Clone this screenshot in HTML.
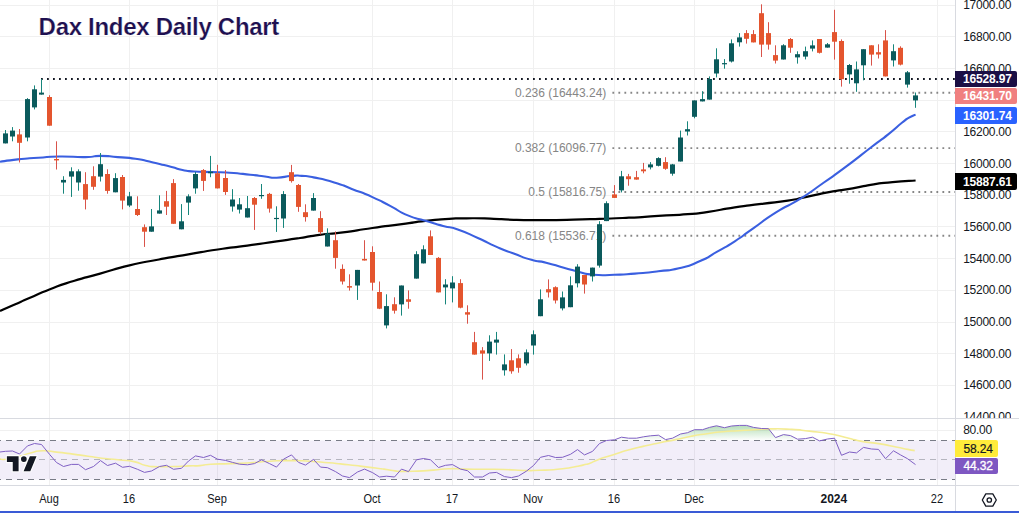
<!DOCTYPE html>
<html><head><meta charset="utf-8"><title>Dax Index Daily Chart</title>
<style>
html,body{margin:0;padding:0;background:#fff;}
body{width:1019px;height:513px;overflow:hidden;position:relative;font-family:"Liberation Sans",sans-serif;}
#chart{position:absolute;left:0;top:0;width:1019px;height:513px;overflow:hidden;background:#fff;}
.title{position:absolute;left:38.6px;top:12.9px;font-size:24px;font-weight:bold;color:#1e1050;white-space:nowrap;letter-spacing:-0.3px;-webkit-text-stroke:0.22px #fff;line-height:28px;}
.ax{position:absolute;left:963.2px;letter-spacing:-0.27px;font-size:12px;color:#131722;line-height:14px;height:14px;white-space:nowrap;}
.tx{position:absolute;top:492px;font-size:12px;color:#131722;line-height:14px;width:60px;margin-left:-30.7px;text-align:center;white-space:nowrap;}
.pl{position:absolute;font-size:12px;letter-spacing:-0.15px;text-align:left;padding-left:8px;box-sizing:border-box;white-space:nowrap;border-radius:0 2px 2px 0;}
</style></head><body><div id="chart">
<svg width="1019" height="513" viewBox="0 0 1019 513" style="position:absolute;left:0;top:0"><g stroke="#f0f0f0" stroke-width="1" shape-rendering="crispEdges"><line x1="0" y1="5.5" x2="955" y2="5.5"/><line x1="0" y1="36.5" x2="955" y2="36.5"/><line x1="0" y1="68.5" x2="955" y2="68.5"/><line x1="0" y1="100.5" x2="955" y2="100.5"/><line x1="0" y1="131.5" x2="955" y2="131.5"/><line x1="0" y1="163.5" x2="955" y2="163.5"/><line x1="0" y1="195.5" x2="955" y2="195.5"/><line x1="0" y1="226.5" x2="955" y2="226.5"/><line x1="0" y1="258.5" x2="955" y2="258.5"/><line x1="0" y1="290.5" x2="955" y2="290.5"/><line x1="0" y1="322.5" x2="955" y2="322.5"/><line x1="0" y1="353.5" x2="955" y2="353.5"/><line x1="0" y1="385.5" x2="955" y2="385.5"/><line x1="49.5" y1="0" x2="49.5" y2="485"/><line x1="129.5" y1="0" x2="129.5" y2="485"/><line x1="217.5" y1="0" x2="217.5" y2="485"/><line x1="372.5" y1="0" x2="372.5" y2="485"/><line x1="452.5" y1="0" x2="452.5" y2="485"/><line x1="533.5" y1="0" x2="533.5" y2="485"/><line x1="614.5" y1="0" x2="614.5" y2="485"/><line x1="694.5" y1="0" x2="694.5" y2="485"/><line x1="834.5" y1="0" x2="834.5" y2="485"/><line x1="937.5" y1="0" x2="937.5" y2="485"/><line x1="0" y1="430.5" x2="955" y2="430.5"/></g><rect x="0" y="440.5" width="955" height="39" fill="#7e57c2" fill-opacity="0.1"/><defs><linearGradient id="gg" x1="0" y1="424" x2="0" y2="440.5" gradientUnits="userSpaceOnUse"><stop offset="0" stop-color="#4caf50" stop-opacity="0.45"/><stop offset="1" stop-color="#4caf50" stop-opacity="0"/></linearGradient><clipPath id="c70"><rect x="0" y="418" width="955" height="22.5"/></clipPath></defs><polygon clip-path="url(#c70)" fill="url(#gg)" points="5.5,440.5 5.5,451.3 12.5,451.0 19.5,454.0 27.5,445.9 34.5,443.5 41.5,444.5 49.5,454.3 56.5,462.5 63.5,466.5 71.5,464.4 78.5,464.4 85.5,469.7 93.5,466.5 100.5,460.6 107.5,465.5 115.5,463.2 122.5,467.3 129.5,466.3 137.5,469.3 144.5,472.4 151.5,471.0 159.5,466.5 166.5,465.3 173.5,469.3 181.5,468.3 188.5,461.0 195.5,455.9 203.5,457.5 210.5,455.3 217.5,459.2 225.5,460.4 232.5,462.4 239.5,464.2 247.5,464.8 254.5,463.6 261.5,459.8 269.5,463.6 276.5,467.1 283.5,459.2 291.5,454.9 298.5,462.4 305.5,465.1 313.5,459.4 320.5,467.1 327.5,467.7 335.5,471.6 342.5,476.0 349.5,477.6 357.5,472.0 364.5,469.1 372.5,472.6 379.5,477.0 386.5,476.2 394.5,477.0 401.5,469.1 408.5,471.6 416.5,459.8 423.5,458.5 430.5,459.8 438.5,467.5 445.5,465.3 452.5,464.6 460.5,469.1 467.5,470.7 474.5,477.0 482.5,477.0 489.5,473.0 496.5,472.4 504.5,476.6 511.5,477.6 518.5,476.0 526.5,471.1 533.5,465.5 540.5,457.3 548.5,455.5 555.5,457.5 562.5,457.3 570.5,454.3 577.5,449.6 584.5,454.9 592.5,451.4 599.5,443.5 606.5,440.5 614.5,439.8 621.5,437.2 628.5,438.2 636.5,438.2 643.5,436.8 650.5,435.8 658.5,435.2 665.5,439.6 672.5,438.2 680.5,434.0 687.5,432.7 694.5,429.7 702.5,429.7 709.5,427.4 716.5,425.8 724.5,427.7 731.5,426.0 739.5,425.4 746.5,425.4 753.5,427.4 761.5,428.5 768.5,428.7 775.5,437.6 783.5,434.6 790.5,435.6 797.5,439.2 805.5,438.6 812.5,437.2 819.5,440.9 827.5,439.0 834.5,438.2 841.5,455.3 849.5,452.0 856.5,452.9 863.5,447.4 871.5,449.0 878.5,449.4 885.5,458.7 893.5,450.8 900.5,454.9 907.5,458.7 915.5,464.6 915.5,440.5"/><g stroke="#787b86" stroke-width="1" stroke-dasharray="6 5" stroke-dashoffset="5.1" shape-rendering="crispEdges"><line x1="0" y1="440.5" x2="955" y2="440.5"/><line x1="0" y1="479.5" x2="955" y2="479.5"/><line x1="0" y1="459.5" x2="955" y2="459.5" stroke-opacity="0.5"/></g><g stroke="#d8dae0" stroke-width="1" shape-rendering="crispEdges"><line x1="0" y1="418.5" x2="1019" y2="418.5"/><line x1="0" y1="485.5" x2="1019" y2="485.5"/><line x1="955.5" y1="0" x2="955.5" y2="511"/></g><g stroke-width="1.9" stroke-dasharray="1.8 4.2" fill="none"><line x1="41" y1="79" x2="955" y2="79" stroke="#131722"/><line x1="612.4" y1="92.8" x2="955" y2="92.8" stroke="#868686"/><line x1="612.4" y1="148.1" x2="955" y2="148.1" stroke="#868686"/><line x1="612.4" y1="192" x2="955" y2="192" stroke="#868686"/><line x1="612.4" y1="235.8" x2="955" y2="235.8" stroke="#868686"/></g><g font-family="Liberation Sans, sans-serif" font-size="12" fill="#868686" text-anchor="end"><text x="606.3" y="96.8">0.236 (16443.24)</text><text x="606.3" y="152.2">0.382 (16096.77)</text><text x="606.3" y="196.1">0.5 (15816.75)</text><text x="606.3" y="239.9">0.618 (15536.71)</text></g><path fill="none" stroke="#000" stroke-width="2.2" stroke-linejoin="round" d="M0.0 311.0C4.9 308.8 4.9 308.8 14.7 304.5C24.5 300.2 17.6 303.1 29.4 298.0C41.2 292.9 35.3 294.9 50.0 289.2C64.7 283.5 56.9 286.2 73.6 281.0C90.3 275.8 81.5 278.8 100.1 273.6C118.7 268.4 109.9 270.1 129.5 265.4C149.1 260.7 139.4 263.2 159.0 259.5C178.6 255.8 168.8 257.6 188.4 254.3C208.0 251.0 198.2 252.4 217.8 249.5C237.4 246.6 227.7 248.3 247.3 245.6C266.9 242.9 259.1 243.9 276.7 241.4C294.3 238.9 285.8 240.2 300.0 238.0C314.2 235.8 305.1 236.7 319.4 234.8C333.7 232.9 325.3 234.7 343.0 232.4C360.7 230.1 352.8 230.7 372.4 228.0C392.0 225.3 384.2 226.6 401.9 224.2C419.6 221.8 409.7 222.7 425.4 220.9C441.1 219.1 435.3 219.8 449.0 218.9C462.7 218.0 452.9 218.4 466.6 218.3C480.3 218.2 474.5 218.1 490.2 218.6C505.9 219.1 497.0 219.3 513.7 219.8C530.4 220.3 522.5 220.1 540.2 220.1C557.9 220.1 547.0 220.2 566.7 219.8C586.4 219.4 578.7 219.6 599.4 218.9C620.1 218.2 609.3 218.7 628.9 217.7C648.5 216.7 638.7 217.1 658.3 215.9C677.9 214.7 671.1 215.6 687.8 214.2C704.5 212.8 692.7 214.1 708.4 211.8C724.1 209.5 717.2 210.0 734.8 207.4C752.4 204.8 743.6 206.2 761.3 203.9C779.0 201.6 773.1 202.9 787.8 200.6C802.5 198.3 791.8 199.9 805.5 197.1C819.2 194.3 813.3 195.0 829.0 192.1C844.7 189.2 837.7 190.9 852.6 188.3C867.5 185.7 860.5 186.3 873.8 184.3C887.1 182.3 878.7 183.5 892.6 182.2C906.5 180.9 907.9 181.1 915.6 180.5"/><path fill="none" stroke="#3a5fe0" stroke-width="2.1" stroke-linejoin="round" d="M0.0 161.8C5.9 161.0 4.9 160.8 17.7 159.4C30.5 158.0 24.6 158.7 38.3 157.7C52.0 156.7 43.2 156.7 58.9 156.5C74.6 156.3 71.7 157.3 85.4 157.1C99.1 156.9 89.3 155.9 100.1 155.9C110.9 155.9 105.9 156.1 117.7 157.1C129.5 158.1 123.6 157.0 135.4 158.8C147.2 160.6 141.3 159.7 153.1 162.4C164.9 165.1 160.9 164.3 170.7 166.8C180.5 169.3 174.6 168.4 182.5 170.0C190.4 171.6 184.5 170.8 194.3 171.5C204.1 172.2 200.1 171.7 211.9 172.1C223.7 172.5 216.8 171.8 229.6 172.7C242.4 173.6 238.4 173.4 250.2 174.7C262.0 176.0 256.1 175.5 264.9 176.5C273.7 177.5 267.9 177.9 276.7 177.7C285.5 177.5 283.0 176.5 291.4 175.9C299.8 175.3 294.4 175.4 301.8 175.9C309.2 176.4 302.7 175.2 313.5 177.4C324.3 179.6 321.4 178.6 334.2 182.4C347.0 186.2 339.1 184.0 351.8 188.9C364.5 193.8 359.6 191.4 372.4 197.1C385.2 202.8 378.3 199.8 390.1 205.9C401.9 212.0 396.0 210.5 407.8 215.4C419.6 220.3 413.6 217.2 425.4 220.7C437.2 224.2 432.3 223.0 443.1 225.9C453.9 228.8 446.0 225.4 457.8 229.5C469.6 233.6 465.6 232.6 478.4 238.3C491.2 244.0 484.3 241.5 496.1 246.6C507.9 251.7 501.9 249.2 513.7 253.6C525.5 258.0 520.6 256.8 531.4 259.8C542.2 262.8 535.3 260.1 546.1 262.7C556.9 265.3 553.0 264.7 563.8 267.7C574.6 270.7 568.6 269.4 578.5 271.8C588.4 274.2 581.6 273.8 593.5 274.8C605.4 275.8 600.4 275.2 614.2 274.8C628.0 274.4 620.1 274.8 634.8 273.6C649.5 272.4 643.6 273.1 658.3 271.3C673.0 269.5 665.2 271.6 678.9 268.3C692.6 265.0 686.7 266.9 699.5 261.3C712.3 255.7 705.4 258.3 717.2 251.6C729.0 244.9 723.0 248.9 734.8 241.3C746.6 233.7 738.8 238.5 752.5 228.9C766.2 219.3 760.3 222.3 776.0 212.4C791.7 202.5 783.9 209.0 799.6 199.2C815.3 189.4 807.5 194.0 823.2 183.0C838.9 172.0 830.6 178.2 846.7 166.2C862.8 154.2 857.8 157.5 871.5 147.0C885.2 136.5 877.8 142.7 887.9 134.6C898.0 126.5 894.9 128.4 901.9 122.8C908.9 117.2 904.4 120.4 909.0 117.7C913.6 115.0 913.4 115.6 915.6 114.6"/><g><rect x="5" y="130.0" width="1" height="13.4" fill="#17867c"/><rect x="3" y="133.4" width="5" height="10.0" fill="#0b5a5c"/><rect x="12" y="127.1" width="1" height="14.2" fill="#17867c"/><rect x="10" y="130.6" width="5" height="5.9" fill="#0b5a5c"/><rect x="19" y="129.0" width="1" height="33.5" fill="#d9534a"/><rect x="17" y="134.4" width="5" height="8.4" fill="#e4552e"/><rect x="27" y="98.1" width="1" height="43.2" fill="#17867c"/><rect x="25" y="99.1" width="5" height="38.4" fill="#0b5a5c"/><rect x="34" y="85.4" width="1" height="24.0" fill="#17867c"/><rect x="32" y="89.3" width="5" height="18.1" fill="#0b5a5c"/><rect x="41" y="78.9" width="1" height="15.7" fill="#17867c"/><rect x="39" y="92.6" width="5" height="2.0" fill="#0b5a5c"/><rect x="49" y="95.2" width="1" height="30.5" fill="#d9534a"/><rect x="47" y="97.0" width="5" height="28.7" fill="#e4552e"/><rect x="56" y="141.3" width="1" height="28.2" fill="#d9534a"/><rect x="54" y="159.0" width="5" height="1.4" fill="#e4552e"/><rect x="63" y="176.2" width="1" height="17.5" fill="#17867c"/><rect x="61" y="179.9" width="5" height="2.6" fill="#0b5a5c"/><rect x="71" y="167.3" width="1" height="29.6" fill="#17867c"/><rect x="69" y="171.3" width="5" height="5.3" fill="#0b5a5c"/><rect x="78" y="169.3" width="1" height="21.4" fill="#17867c"/><rect x="76" y="171.3" width="5" height="11.2" fill="#0b5a5c"/><rect x="85" y="172.2" width="1" height="37.2" fill="#d9534a"/><rect x="83" y="184.1" width="5" height="15.5" fill="#e4552e"/><rect x="93" y="166.3" width="1" height="23.5" fill="#d9534a"/><rect x="91" y="176.2" width="5" height="10.6" fill="#e4552e"/><rect x="100" y="153.0" width="1" height="28.5" fill="#17867c"/><rect x="98" y="164.2" width="5" height="12.4" fill="#0b5a5c"/><rect x="107" y="169.3" width="1" height="24.4" fill="#d9534a"/><rect x="105" y="174.0" width="5" height="16.9" fill="#e4552e"/><rect x="115" y="173.2" width="1" height="19.1" fill="#17867c"/><rect x="113" y="178.1" width="5" height="14.2" fill="#0b5a5c"/><rect x="122" y="175.0" width="1" height="34.4" fill="#d9534a"/><rect x="120" y="177.0" width="5" height="23.6" fill="#e4552e"/><rect x="129" y="191.9" width="1" height="15.2" fill="#17867c"/><rect x="127" y="196.3" width="5" height="9.2" fill="#0b5a5c"/><rect x="137" y="196.3" width="1" height="19.7" fill="#d9534a"/><rect x="135" y="209.0" width="5" height="6.0" fill="#e4552e"/><rect x="144" y="224.4" width="1" height="22.5" fill="#d9534a"/><rect x="142" y="227.2" width="5" height="4.5" fill="#e4552e"/><rect x="151" y="209.0" width="1" height="22.7" fill="#17867c"/><rect x="149" y="226.4" width="5" height="5.3" fill="#0b5a5c"/><rect x="159" y="195.3" width="1" height="18.3" fill="#17867c"/><rect x="157" y="210.4" width="5" height="3.2" fill="#0b5a5c"/><rect x="166" y="190.9" width="1" height="24.1" fill="#d9534a"/><rect x="164" y="201.2" width="5" height="5.5" fill="#e4552e"/><rect x="173" y="179.1" width="1" height="44.7" fill="#d9534a"/><rect x="171" y="183.1" width="5" height="40.7" fill="#e4552e"/><rect x="181" y="204.1" width="1" height="25.2" fill="#17867c"/><rect x="179" y="221.3" width="5" height="8.0" fill="#0b5a5c"/><rect x="188" y="194.3" width="1" height="20.7" fill="#17867c"/><rect x="186" y="196.3" width="5" height="6.3" fill="#0b5a5c"/><rect x="195" y="172.0" width="1" height="21.7" fill="#17867c"/><rect x="193" y="174.0" width="5" height="14.4" fill="#0b5a5c"/><rect x="203" y="169.1" width="1" height="21.8" fill="#d9534a"/><rect x="201" y="170.1" width="5" height="10.8" fill="#e4552e"/><rect x="210" y="155.9" width="1" height="21.3" fill="#17867c"/><rect x="208" y="171.7" width="5" height="1.5" fill="#0b5a5c"/><rect x="217" y="164.8" width="1" height="23.6" fill="#d9534a"/><rect x="215" y="173.2" width="5" height="15.2" fill="#e4552e"/><rect x="225" y="170.1" width="1" height="24.8" fill="#d9534a"/><rect x="223" y="178.0" width="5" height="14.0" fill="#e4552e"/><rect x="232" y="189.2" width="1" height="22.4" fill="#17867c"/><rect x="230" y="199.5" width="5" height="7.0" fill="#0b5a5c"/><rect x="239" y="198.0" width="1" height="15.5" fill="#17867c"/><rect x="237" y="204.3" width="5" height="5.3" fill="#0b5a5c"/><rect x="247" y="196.0" width="1" height="21.5" fill="#17867c"/><rect x="245" y="208.2" width="5" height="9.3" fill="#0b5a5c"/><rect x="254" y="197.0" width="1" height="32.9" fill="#d9534a"/><rect x="252" y="198.0" width="5" height="6.7" fill="#e4552e"/><rect x="261" y="184.0" width="1" height="14.8" fill="#17867c"/><rect x="259" y="195.0" width="5" height="1.2" fill="#0b5a5c"/><rect x="269" y="192.9" width="1" height="19.7" fill="#d9534a"/><rect x="267" y="193.9" width="5" height="14.7" fill="#e4552e"/><rect x="276" y="206.3" width="1" height="25.6" fill="#17867c"/><rect x="274" y="217.9" width="5" height="1.2" fill="#0b5a5c"/><rect x="283" y="191.1" width="1" height="36.8" fill="#17867c"/><rect x="281" y="194.1" width="5" height="24.4" fill="#0b5a5c"/><rect x="291" y="164.9" width="1" height="17.7" fill="#d9534a"/><rect x="289" y="172.2" width="5" height="8.9" fill="#e4552e"/><rect x="298" y="184.0" width="1" height="27.8" fill="#d9534a"/><rect x="296" y="185.0" width="5" height="21.9" fill="#e4552e"/><rect x="305" y="204.3" width="1" height="17.3" fill="#d9534a"/><rect x="303" y="212.2" width="5" height="4.9" fill="#e4552e"/><rect x="313" y="193.1" width="1" height="17.5" fill="#17867c"/><rect x="311" y="198.0" width="5" height="12.6" fill="#0b5a5c"/><rect x="320" y="211.2" width="1" height="23.2" fill="#d9534a"/><rect x="318" y="218.1" width="5" height="14.1" fill="#e4552e"/><rect x="327" y="228.3" width="1" height="18.2" fill="#17867c"/><rect x="325" y="233.4" width="5" height="13.1" fill="#0b5a5c"/><rect x="335" y="231.4" width="1" height="37.3" fill="#d9534a"/><rect x="333" y="240.2" width="5" height="17.7" fill="#e4552e"/><rect x="342" y="264.4" width="1" height="20.1" fill="#d9534a"/><rect x="340" y="268.9" width="5" height="12.6" fill="#e4552e"/><rect x="349" y="274.3" width="1" height="16.3" fill="#d9534a"/><rect x="347" y="286.1" width="5" height="1.5" fill="#e4552e"/><rect x="357" y="269.9" width="1" height="30.0" fill="#17867c"/><rect x="355" y="269.9" width="5" height="15.6" fill="#0b5a5c"/><rect x="364" y="240.2" width="1" height="20.3" fill="#d9534a"/><rect x="362" y="258.9" width="5" height="1.6" fill="#e4552e"/><rect x="372" y="246.3" width="1" height="44.3" fill="#d9534a"/><rect x="370" y="252.0" width="5" height="30.7" fill="#e4552e"/><rect x="379" y="281.5" width="1" height="27.6" fill="#d9534a"/><rect x="377" y="292.0" width="5" height="16.7" fill="#e4552e"/><rect x="386" y="294.3" width="1" height="34.1" fill="#17867c"/><rect x="384" y="306.1" width="5" height="19.3" fill="#0b5a5c"/><rect x="394" y="297.3" width="1" height="16.3" fill="#d9534a"/><rect x="392" y="304.2" width="5" height="6.5" fill="#e4552e"/><rect x="401" y="285.5" width="1" height="30.1" fill="#17867c"/><rect x="399" y="285.5" width="5" height="18.9" fill="#0b5a5c"/><rect x="408" y="290.4" width="1" height="18.3" fill="#d9534a"/><rect x="406" y="299.3" width="5" height="2.5" fill="#e4552e"/><rect x="416" y="251.2" width="1" height="27.4" fill="#17867c"/><rect x="414" y="254.2" width="5" height="24.4" fill="#0b5a5c"/><rect x="423" y="245.3" width="1" height="18.1" fill="#17867c"/><rect x="421" y="249.3" width="5" height="14.1" fill="#0b5a5c"/><rect x="430" y="230.4" width="1" height="24.6" fill="#d9534a"/><rect x="428" y="236.3" width="5" height="18.7" fill="#e4552e"/><rect x="438" y="257.1" width="1" height="35.3" fill="#d9534a"/><rect x="436" y="257.9" width="5" height="34.5" fill="#e4552e"/><rect x="445" y="279.2" width="1" height="25.2" fill="#17867c"/><rect x="443" y="284.5" width="5" height="2.9" fill="#0b5a5c"/><rect x="452" y="276.2" width="1" height="26.2" fill="#17867c"/><rect x="450" y="282.5" width="5" height="5.9" fill="#0b5a5c"/><rect x="460" y="279.2" width="1" height="29.1" fill="#d9534a"/><rect x="458" y="283.1" width="5" height="24.6" fill="#e4552e"/><rect x="467" y="305.3" width="1" height="18.4" fill="#d9534a"/><rect x="465" y="312.2" width="5" height="2.4" fill="#e4552e"/><rect x="474" y="331.9" width="1" height="22.7" fill="#d9534a"/><rect x="472" y="342.2" width="5" height="12.4" fill="#e4552e"/><rect x="482" y="347.1" width="1" height="32.5" fill="#d9534a"/><rect x="480" y="350.4" width="5" height="3.2" fill="#e4552e"/><rect x="489" y="335.3" width="1" height="25.6" fill="#17867c"/><rect x="487" y="341.6" width="5" height="11.8" fill="#0b5a5c"/><rect x="496" y="331.9" width="1" height="22.7" fill="#17867c"/><rect x="494" y="339.6" width="5" height="3.0" fill="#0b5a5c"/><rect x="504" y="354.4" width="1" height="21.2" fill="#17867c"/><rect x="502" y="364.4" width="5" height="5.9" fill="#0b5a5c"/><rect x="511" y="349.1" width="1" height="24.6" fill="#d9534a"/><rect x="509" y="360.3" width="5" height="11.0" fill="#e4552e"/><rect x="518" y="354.4" width="1" height="18.3" fill="#d9534a"/><rect x="516" y="358.3" width="5" height="9.5" fill="#e4552e"/><rect x="526" y="349.4" width="1" height="16.0" fill="#17867c"/><rect x="524" y="352.4" width="5" height="11.0" fill="#0b5a5c"/><rect x="533" y="330.4" width="1" height="24.2" fill="#17867c"/><rect x="531" y="334.3" width="5" height="11.2" fill="#0b5a5c"/><rect x="540" y="289.4" width="1" height="26.8" fill="#17867c"/><rect x="538" y="299.3" width="5" height="16.9" fill="#0b5a5c"/><rect x="548" y="279.4" width="1" height="18.1" fill="#d9534a"/><rect x="546" y="289.2" width="5" height="3.2" fill="#e4552e"/><rect x="555" y="286.3" width="1" height="17.2" fill="#d9534a"/><rect x="553" y="287.2" width="5" height="13.3" fill="#e4552e"/><rect x="562" y="291.5" width="1" height="18.9" fill="#17867c"/><rect x="560" y="297.4" width="5" height="11.0" fill="#0b5a5c"/><rect x="570" y="276.4" width="1" height="30.8" fill="#17867c"/><rect x="568" y="285.3" width="5" height="21.9" fill="#0b5a5c"/><rect x="577" y="264.2" width="1" height="23.2" fill="#17867c"/><rect x="575" y="266.6" width="5" height="16.7" fill="#0b5a5c"/><rect x="584" y="275.0" width="1" height="18.6" fill="#d9534a"/><rect x="582" y="275.0" width="5" height="9.5" fill="#e4552e"/><rect x="592" y="267.6" width="1" height="13.9" fill="#17867c"/><rect x="590" y="267.6" width="5" height="8.8" fill="#0b5a5c"/><rect x="599" y="221.2" width="1" height="46.4" fill="#17867c"/><rect x="597" y="224.2" width="5" height="41.4" fill="#0b5a5c"/><rect x="606" y="201.3" width="1" height="19.8" fill="#17867c"/><rect x="604" y="203.2" width="5" height="17.9" fill="#0b5a5c"/><rect x="614" y="185.1" width="1" height="12.8" fill="#d9534a"/><rect x="612" y="194.4" width="5" height="3.5" fill="#e4552e"/><rect x="621" y="170.9" width="1" height="21.5" fill="#17867c"/><rect x="619" y="176.3" width="5" height="14.1" fill="#0b5a5c"/><rect x="628" y="173.9" width="1" height="11.8" fill="#d9534a"/><rect x="626" y="176.3" width="5" height="2.9" fill="#e4552e"/><rect x="636" y="170.9" width="1" height="8.7" fill="#d9534a"/><rect x="634" y="177.2" width="5" height="2.4" fill="#e4552e"/><rect x="643" y="162.9" width="1" height="10.4" fill="#d9534a"/><rect x="641" y="169.4" width="5" height="1.9" fill="#e4552e"/><rect x="650" y="162.1" width="1" height="7.3" fill="#17867c"/><rect x="648" y="164.4" width="5" height="3.0" fill="#0b5a5c"/><rect x="658" y="157.2" width="1" height="9.2" fill="#17867c"/><rect x="656" y="158.1" width="5" height="7.7" fill="#0b5a5c"/><rect x="665" y="157.2" width="1" height="12.6" fill="#d9534a"/><rect x="663" y="162.1" width="5" height="6.7" fill="#e4552e"/><rect x="672" y="163.9" width="1" height="11.8" fill="#17867c"/><rect x="670" y="164.4" width="5" height="9.3" fill="#0b5a5c"/><rect x="680" y="130.6" width="1" height="30.9" fill="#17867c"/><rect x="678" y="137.5" width="5" height="24.0" fill="#0b5a5c"/><rect x="687" y="121.3" width="1" height="14.2" fill="#17867c"/><rect x="685" y="129.2" width="5" height="2.3" fill="#0b5a5c"/><rect x="694" y="100.4" width="1" height="17.9" fill="#17867c"/><rect x="692" y="100.4" width="5" height="16.4" fill="#0b5a5c"/><rect x="702" y="91.2" width="1" height="10.2" fill="#17867c"/><rect x="700" y="99.1" width="5" height="2.3" fill="#0b5a5c"/><rect x="709" y="76.4" width="1" height="23.2" fill="#17867c"/><rect x="707" y="79.0" width="5" height="20.6" fill="#0b5a5c"/><rect x="716" y="48.3" width="1" height="29.1" fill="#17867c"/><rect x="714" y="59.3" width="5" height="14.2" fill="#0b5a5c"/><rect x="724" y="59.1" width="1" height="9.6" fill="#17867c"/><rect x="722" y="63.1" width="5" height="1.2" fill="#0b5a5c"/><rect x="731" y="39.4" width="1" height="23.1" fill="#17867c"/><rect x="729" y="43.3" width="5" height="18.2" fill="#0b5a5c"/><rect x="739" y="33.1" width="1" height="13.5" fill="#17867c"/><rect x="737" y="37.4" width="5" height="4.9" fill="#0b5a5c"/><rect x="746" y="30.1" width="1" height="13.5" fill="#d9534a"/><rect x="744" y="33.1" width="5" height="5.7" fill="#e4552e"/><rect x="753" y="30.1" width="1" height="12.3" fill="#d9534a"/><rect x="751" y="34.1" width="5" height="8.3" fill="#e4552e"/><rect x="761" y="4.3" width="1" height="52.7" fill="#d9534a"/><rect x="759" y="13.2" width="5" height="31.4" fill="#e4552e"/><rect x="768" y="22.2" width="1" height="27.4" fill="#d9534a"/><rect x="766" y="33.1" width="5" height="11.5" fill="#e4552e"/><rect x="775" y="45.3" width="1" height="18.2" fill="#d9534a"/><rect x="773" y="55.1" width="5" height="5.5" fill="#e4552e"/><rect x="783" y="44.2" width="1" height="15.3" fill="#17867c"/><rect x="781" y="45.3" width="5" height="14.2" fill="#0b5a5c"/><rect x="790" y="38.0" width="1" height="14.8" fill="#d9534a"/><rect x="788" y="39.0" width="5" height="8.7" fill="#e4552e"/><rect x="797" y="51.3" width="1" height="12.3" fill="#17867c"/><rect x="795" y="54.2" width="5" height="3.2" fill="#0b5a5c"/><rect x="805" y="46.6" width="1" height="12.8" fill="#17867c"/><rect x="803" y="51.2" width="5" height="5.4" fill="#0b5a5c"/><rect x="812" y="40.4" width="1" height="11.0" fill="#17867c"/><rect x="810" y="45.4" width="5" height="3.2" fill="#0b5a5c"/><rect x="819" y="39.0" width="1" height="14.5" fill="#d9534a"/><rect x="817" y="39.0" width="5" height="13.8" fill="#e4552e"/><rect x="827" y="43.0" width="1" height="4.6" fill="#17867c"/><rect x="825" y="44.3" width="5" height="3.3" fill="#0b5a5c"/><rect x="834" y="9.8" width="1" height="49.8" fill="#d9534a"/><rect x="832" y="32.1" width="5" height="9.6" fill="#e4552e"/><rect x="841" y="39.4" width="1" height="47.2" fill="#d9534a"/><rect x="839" y="41.0" width="5" height="38.2" fill="#e4552e"/><rect x="849" y="64.0" width="1" height="19.7" fill="#17867c"/><rect x="847" y="65.0" width="5" height="9.4" fill="#0b5a5c"/><rect x="856" y="61.5" width="1" height="30.3" fill="#17867c"/><rect x="854" y="69.4" width="5" height="13.9" fill="#0b5a5c"/><rect x="863" y="49.2" width="1" height="31.1" fill="#17867c"/><rect x="861" y="49.2" width="5" height="16.1" fill="#0b5a5c"/><rect x="871" y="45.3" width="1" height="20.3" fill="#d9534a"/><rect x="869" y="45.3" width="5" height="9.3" fill="#e4552e"/><rect x="878" y="44.3" width="1" height="14.2" fill="#d9534a"/><rect x="876" y="52.2" width="5" height="2.3" fill="#e4552e"/><rect x="885" y="30.1" width="1" height="46.3" fill="#d9534a"/><rect x="883" y="40.4" width="5" height="36.0" fill="#e4552e"/><rect x="893" y="44.3" width="1" height="22.2" fill="#17867c"/><rect x="891" y="51.2" width="5" height="9.2" fill="#0b5a5c"/><rect x="900" y="46.3" width="1" height="19.1" fill="#d9534a"/><rect x="898" y="47.8" width="5" height="16.8" fill="#e4552e"/><rect x="907" y="71.0" width="1" height="16.6" fill="#17867c"/><rect x="905" y="72.3" width="5" height="12.3" fill="#0b5a5c"/><rect x="915" y="92.5" width="1" height="15.3" fill="#17867c"/><rect x="913" y="95.4" width="5" height="5.0" fill="#0b5a5c"/></g><path fill="none" stroke="#f4ec94" stroke-width="1.6" stroke-linejoin="round" d="M0.0 458.9C2.0 459.0 -0.7 460.1 5.9 459.2C12.5 458.3 11.2 458.5 19.7 456.3C28.2 454.1 23.6 454.5 31.5 452.7C39.4 450.9 34.1 450.9 43.3 450.8C52.5 450.7 47.2 451.0 59.0 452.4C70.8 453.8 65.6 453.1 78.7 454.9C91.8 456.7 85.3 456.1 98.4 457.7C111.5 459.3 106.3 458.5 118.1 459.8C129.9 461.1 124.7 459.7 133.9 461.6C143.1 463.5 137.8 463.8 145.7 465.5C153.6 467.2 148.3 466.4 157.5 466.7C166.7 467.0 162.7 466.8 173.2 466.5C183.7 466.2 180.1 466.2 189.0 465.9C197.9 465.6 192.8 466.2 200.0 465.6C207.2 465.0 200.6 464.9 210.7 464.2C220.8 463.5 217.3 464.1 230.4 463.6C243.5 463.1 237.0 463.6 250.1 462.8C263.2 462.0 256.7 461.9 269.8 461.2C282.9 460.5 276.4 460.6 289.5 460.6C302.6 460.6 296.1 460.5 309.2 461.2C322.3 461.9 315.8 461.6 328.9 462.8C342.0 464.0 335.4 463.4 348.5 464.8C361.6 466.2 356.4 465.7 368.2 467.1C380.0 468.5 375.1 467.8 384.0 469.1C392.9 470.4 389.1 470.1 395.0 470.9C400.9 471.7 394.3 471.3 401.8 471.4C409.3 471.5 407.1 471.5 417.6 471.1C428.1 470.7 422.8 470.9 433.3 470.1C443.8 469.3 438.6 469.0 449.1 468.7C459.6 468.4 453.0 468.9 464.8 469.1C476.6 469.3 471.4 469.2 484.5 469.3C497.6 469.4 491.1 469.1 504.2 469.5C517.3 469.9 512.1 470.2 523.9 470.5C535.7 470.8 529.1 470.6 539.6 470.3C550.1 470.0 544.9 470.4 555.4 469.5C565.9 468.6 561.9 469.0 571.1 467.5C580.3 466.0 576.6 466.5 582.9 465.1C589.2 463.7 585.4 464.8 590.0 463.2C594.6 461.6 589.3 463.0 596.8 460.2C604.3 457.4 602.1 458.3 612.6 454.9C623.1 451.5 617.8 452.9 628.3 450.0C638.8 447.1 633.6 448.5 644.1 446.1C654.6 443.7 649.3 444.9 659.8 442.7C670.3 440.5 665.1 441.8 675.6 439.6C686.1 437.4 680.8 438.2 691.3 436.2C701.8 434.2 696.5 435.2 707.0 433.7C717.5 432.2 712.3 432.7 722.8 431.7C733.3 430.7 728.0 431.4 738.5 430.7C749.0 430.0 743.8 430.3 754.3 429.7C764.8 429.1 758.2 429.0 770.0 428.9C781.8 428.8 776.6 428.6 789.7 429.3C802.8 430.0 796.3 429.6 809.4 431.1C822.5 432.6 817.3 431.7 829.1 433.7C840.9 435.7 834.3 434.7 844.8 437.2C855.3 439.7 848.8 438.9 860.6 441.1C872.4 443.3 868.4 441.9 880.2 443.9C892.0 445.9 886.8 445.2 896.0 447.0C905.2 448.8 901.6 448.2 907.8 449.4C914.0 450.6 912.4 450.2 914.7 450.6"/><polyline fill="none" stroke="#7f5fc4" stroke-width="1" stroke-linejoin="round" points="0.0,452.0 5.5,451.3 12.5,451.0 19.5,454.0 27.5,445.9 34.5,443.5 41.5,444.5 49.5,454.3 56.5,462.5 63.5,466.5 71.5,464.4 78.5,464.4 85.5,469.7 93.5,466.5 100.5,460.6 107.5,465.5 115.5,463.2 122.5,467.3 129.5,466.3 137.5,469.3 144.5,472.4 151.5,471.0 159.5,466.5 166.5,465.3 173.5,469.3 181.5,468.3 188.5,461.0 195.5,455.9 203.5,457.5 210.5,455.3 217.5,459.2 225.5,460.4 232.5,462.4 239.5,464.2 247.5,464.8 254.5,463.6 261.5,459.8 269.5,463.6 276.5,467.1 283.5,459.2 291.5,454.9 298.5,462.4 305.5,465.1 313.5,459.4 320.5,467.1 327.5,467.7 335.5,471.6 342.5,476.0 349.5,477.6 357.5,472.0 364.5,469.1 372.5,472.6 379.5,477.0 386.5,476.2 394.5,477.0 401.5,469.1 408.5,471.6 416.5,459.8 423.5,458.5 430.5,459.8 438.5,467.5 445.5,465.3 452.5,464.6 460.5,469.1 467.5,470.7 474.5,477.0 482.5,477.0 489.5,473.0 496.5,472.4 504.5,476.6 511.5,477.6 518.5,476.0 526.5,471.1 533.5,465.5 540.5,457.3 548.5,455.5 555.5,457.5 562.5,457.3 570.5,454.3 577.5,449.6 584.5,454.9 592.5,451.4 599.5,443.5 606.5,440.5 614.5,439.8 621.5,437.2 628.5,438.2 636.5,438.2 643.5,436.8 650.5,435.8 658.5,435.2 665.5,439.6 672.5,438.2 680.5,434.0 687.5,432.7 694.5,429.7 702.5,429.7 709.5,427.4 716.5,425.8 724.5,427.7 731.5,426.0 739.5,425.4 746.5,425.4 753.5,427.4 761.5,428.5 768.5,428.7 775.5,437.6 783.5,434.6 790.5,435.6 797.5,439.2 805.5,438.6 812.5,437.2 819.5,440.9 827.5,439.0 834.5,438.2 841.5,455.3 849.5,452.0 856.5,452.9 863.5,447.4 871.5,449.0 878.5,449.4 885.5,458.7 893.5,450.8 900.5,454.9 907.5,458.7 915.5,464.6"/><g transform="translate(6.9,452.8) scale(0.835)"><g fill="#fff" stroke="#fff" stroke-width="2.8" stroke-linejoin="round"><path d="M14 22H7V11H0V4h14v18zM28 22h-8l7.5-18h8L28 22z"/><circle cx="20.3" cy="7.5" r="3.4"/></g><g fill="#131722"><path d="M14 22H7V11H0V4h14v18zM28 22h-8l7.5-18h8L28 22z"/><circle cx="20.3" cy="7.5" r="3.4"/></g></g><g fill="none" stroke="#131722" stroke-width="1.3"><path d="M982.3 500 L985.8 493.9 L992.8 493.9 L996.3 500 L992.8 506.1 L985.8 506.1 Z" stroke-linejoin="round"/><circle cx="989.3" cy="500" r="2.2"/></g><rect x="0" y="511" width="1019" height="2" fill="#3a5bd6"/></svg>
<div class="title">Dax Index Daily Chart</div>
<div class="ax" style="top:-1.8px">17000.00</div>
<div class="ax" style="top:30.0px">16800.00</div>
<div class="ax" style="top:62.0px">16600.00</div>
<div class="ax" style="top:125.0px">16200.00</div>
<div class="ax" style="top:157.0px">16000.00</div>
<div class="ax" style="top:188.2px">15800.00</div>
<div class="ax" style="top:220.0px">15600.00</div>
<div class="ax" style="top:252.0px">15400.00</div>
<div class="ax" style="top:283.2px">15200.00</div>
<div class="ax" style="top:315.0px">15000.00</div>
<div class="ax" style="top:347.0px">14800.00</div>
<div class="ax" style="top:378.2px">14600.00</div>
<div class="ax" style="top:409.5px;height:8.5px;overflow:hidden">14400.00</div>
<div class="ax" style="top:422.5px">80.00</div>
<div class="pl" style="left:955px;top:70.8px;width:62px;height:15.8px;line-height:17.6px;overflow:hidden;background:#1b0f45;color:#fff;font-weight:bold;">16528.97</div>
<div class="pl" style="left:955px;top:87.6px;width:62px;height:16.1px;line-height:17.900000000000002px;overflow:hidden;background:#f08080;color:#fff;font-weight:bold;">16431.70</div>
<div class="pl" style="left:955px;top:107.2px;width:62px;height:16.8px;line-height:18.6px;overflow:hidden;background:#2962ff;color:#fff;font-weight:bold;">16301.74</div>
<div class="pl" style="left:955px;top:173.2px;width:62px;height:16.6px;line-height:18.400000000000002px;overflow:hidden;background:#000;color:#fff;font-weight:bold;">15887.61</div>
<div class="pl" style="-webkit-text-stroke:0.2px #131722;letter-spacing:-0.2px;padding-left:8.6px;left:955px;top:440px;width:43px;height:16.5px;line-height:18.3px;overflow:hidden;background:#ffeb3b;color:#131722;">58.24</div>
<div class="pl" style="-webkit-text-stroke:0.3px #fff;letter-spacing:-0.2px;padding-left:8.6px;left:955px;top:457.5px;width:43px;height:16px;line-height:17.8px;overflow:hidden;background:#7e57c2;color:#fff;">44.32</div>
<div class="tx" style="left:49.5px;transform:scaleX(0.92);">Aug</div>
<div class="tx" style="left:129.5px;transform:scaleX(0.92);">16</div>
<div class="tx" style="left:217.5px;transform:scaleX(0.92);">Sep</div>
<div class="tx" style="left:372.5px;transform:scaleX(0.92);">Oct</div>
<div class="tx" style="left:452.5px;transform:scaleX(0.92);">17</div>
<div class="tx" style="left:533.5px;transform:scaleX(0.92);">Nov</div>
<div class="tx" style="left:614.5px;transform:scaleX(0.92);">16</div>
<div class="tx" style="left:694.5px;transform:scaleX(0.92);">Dec</div>
<div class="tx" style="left:834.5px;font-weight:bold;">2024</div>
<div class="tx" style="left:937.5px;transform:scaleX(0.92);">22</div>
</div></body></html>
